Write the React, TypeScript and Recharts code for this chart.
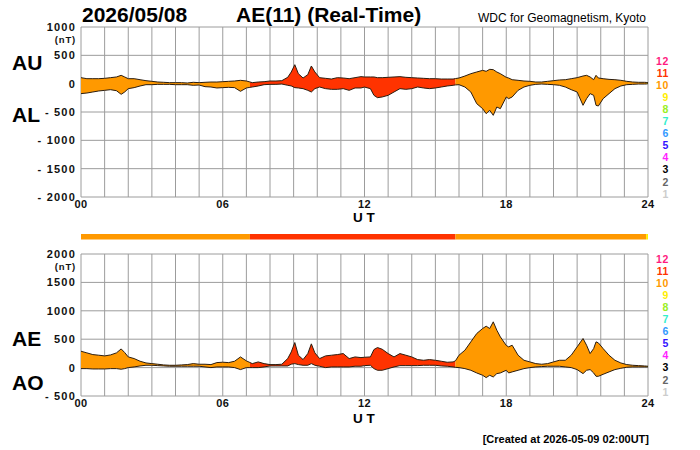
import { ComposedChart, Area, Line, XAxis, YAxis, CartesianGrid, BarChart, Bar } from 'recharts';

const FONT = '"Liberation Sans", Arial, Helvetica, sans-serif';
const GRID = '#9c9c9c';
const EDGE = '#2b1d10';

// UT hours of the sampled points
const hours = [
  0, 0.25, 0.5, 0.75, 1, 1.25, 1.5, 1.7, 1.85, 2, 2.25, 2.5, 2.75, 3, 3.25, 3.5, 3.75, 4, 4.25, 4.5,
  4.75, 5, 5.25, 5.5, 5.75, 6, 6.25, 6.5, 6.75, 7, 7.15, 7.25, 7.5, 7.75, 8, 8.25, 8.5, 8.75, 8.9, 9.05,
  9.2, 9.4, 9.6, 9.75, 9.9, 10.1, 10.35, 10.6, 10.85, 11.1, 11.35, 11.6, 11.85, 12, 12.25, 12.4, 12.55, 12.75, 13, 13.25,
  13.5, 13.75, 14, 14.25, 14.5, 14.75, 15, 15.25, 15.5, 15.75, 15.85, 16, 16.25, 16.5, 16.75, 17, 17.15, 17.3, 17.45, 17.6,
  17.75, 18, 18.1, 18.25, 18.5, 18.75, 19, 19.25, 19.5, 19.75, 20, 20.25, 20.5, 20.75, 21, 21.25, 21.4, 21.55, 21.7, 21.8,
  21.9, 22.1, 22.35, 22.6, 22.85, 23.1, 23.35, 23.6, 23.85, 23.92, 24,
];

const au = [
  106, 88, 88, 88, 94, 106, 118, 147, 118, 88, 88, 70, 53, 41, 29, 24, 18, 18, 18, 12,
  24, 18, 24, 29, 29, 35, 41, 47, 59, 47, 30, 18, 29, 35, 47, 47, 53, 112, 206, 335,
  176, 100, 159, 312, 206, 106, 94, 82, 106, 100, 88, 106, 124, 118, 118, 118, 106, 106, 112, 118,
  124, 112, 106, 100, 94, 88, 88, 82, 82, 82, 90, 100, 135, 176, 206, 235, 218, 253, 247, 206,
  176, 112, 100, 70, 59, 47, 41, 29, 29, 41, 53, 65, 70, 88, 106, 135, 147, 118, 70, 147,
  100, 88, 76, 70, 59, 41, 29, 24, 24, 22, 18,
];

const al = [
  -176, -165, -147, -129, -118, -106, -124, -188, -147, -88, -70, -41, -18, -18, -12, -12, -12, -18, -18, -18,
  -29, -24, -53, -59, -76, -70, -65, -70, -135, -76, -65, -59, -41, -18, -12, -12, -6, -29, -40, -70,
  -76, -88, -118, -147, -88, -59, -88, -100, -100, -88, -118, -76, -76, -60, -88, -206, -247, -235, -206, -147,
  -88, -100, -88, -59, -76, -88, -76, -59, -41, -29, -22, -18, -59, -147, -353, -441, -529, -470, -559, -412,
  -441, -235, -265, -235, -118, -59, -29, -12, -6, -12, -18, -29, -59, -106, -147, -382, -265, -176, -206, -382,
  -394, -265, -176, -88, -41, -18, -12, -6, -6, -5, 0,
];

const ae = [
  288, 259, 229, 218, 206, 223, 259, 329, 265, 188, 159, 112, 82, 70, 59, 47, 41, 41, 47, 53,
  70, 59, 59, 53, 88, 95, 88, 112, 188, 118, 90, 70, 100, 70, 53, 53, 59, 159, 276, 441,
  218, 141, 247, 418, 259, 159, 206, 218, 229, 247, 159, 188, 176, 182, 188, 318, 353, 323, 247, 188,
  247, 218, 188, 141, 129, 141, 129, 112, 94, 100, 120, 218, 306, 453, 600, 688, 729, 688, 806, 659,
  541, 390, 365, 394, 218, 129, 100, 70, 59, 70, 100, 129, 129, 218, 365, 512, 394, 247, 335, 453,
  435, 335, 218, 129, 82, 53, 41, 35, 29, 27, 24,
];

const ao = [
  -18, -18, -24, -24, -24, -18, -18, -29, -18, 0, 12, 29, 41, 41, 35, 29, 24, 24, 24, 24,
  24, 24, 12, 0, 12, 12, 12, 0, -35, 0, 0, 0, 0, 12, 29, 29, 29, 29, 60, 70,
  53, 41, 41, 70, 41, 24, 0, 12, 12, 12, 12, 24, 24, 35, 41, -18, -47, -47, -18, 12,
  35, 35, 35, 35, 41, 41, 41, 29, 24, 12, 5, 0, -18, -47, -94, -135, -176, -135, -165, -106,
  -94, -47, -94, -76, -47, -18, 0, 12, 18, 24, 24, 24, 12, 0, -35, -106, -47, -35, -94, -153,
  -153, -118, -76, -35, -12, 6, 12, 12, 12, 12, 12,
];

// number of contributing stations per time span
const segStart = [0, 7.15, 15.85, 23.92];
const segEnd = [7.15, 15.85, 23.92, 24];
const segStations = [10, 11, 10, 9];

const stationColors: Record<number, string> = {
  1: '#cccccc',
  2: '#666666',
  3: '#000000',
  4: '#ff22ff',
  5: '#3311ff',
  6: '#3399ff',
  7: '#33eecc',
  8: '#99ee22',
  9: '#ffee00',
  10: '#ff9900',
  11: '#ff3300',
  12: '#ff1a80',
};
const stationLabels = [12, 11, 10, 9, 8, 7, 6, 5, 4, 3, 2, 1];

const hourTicks = [0, 1, 2, 3, 4, 5, 6, 7, 8, 9, 10, 11, 12, 13, 14, 15, 16, 17, 18, 19, 20, 21, 22, 23, 24];
const auTicks = [-2000, -1500, -1000, -500, 0, 500, 1000];
const aeTicks = [-500, 0, 500, 1000, 1500, 2000];

const rows = hours.map((t, i) => {
  const row: Record<string, any> = { t, au: au[i], al: al[i], ae: ae[i], ao: ao[i] };
  segStart.forEach((s, k) => {
    const inSeg = t >= s && t <= segEnd[k];
    row[`u${k}`] = inSeg ? [al[i], au[i]] : null;
    row[`e${k}`] = inSeg ? [ao[i], ae[i]] : null;
  });
  return row;
});

const barRow: Record<string, any> = { row: 'n' };
segStart.forEach((s, k) => {
  barRow[`b${k}`] = segEnd[k] - s;
});

const tickText = { fontFamily: FONT, fontWeight: 700, fill: '#111' };

function makeYTick(topValue: number) {
  return (props: any) => {
    const { x, y, payload } = props;
    const v = payload.value as number;
    const label = v < 0 ? `- ${Math.abs(v)}` : `${v}`;
    return (
      <g>
        <text x={x} y={y} dy={4} textAnchor="end" fontSize={11} letterSpacing={1.2} {...tickText}>
          {label}
        </text>
        {v === topValue && (
          <text x={x} y={y} dy={15.5} textAnchor="end" fontSize={9.5} letterSpacing={0.8} {...tickText}>
            (nT)
          </text>
        )}
      </g>
    );
  };
}

function XTick(props: any) {
  const { x, y, payload } = props;
  const v = payload.value as number;
  if (v % 6 !== 0) return <g />;
  return (
    <text x={x} y={y} dy={10.5} textAnchor="middle" fontSize={11} letterSpacing={0.4} {...tickText}>
      {String(v).padStart(2, '0')}
    </text>
  );
}

function Panel({ lo, hi, prefix, domain, ticks, height, margin }: any) {
  return (
    <ComposedChart width={700} height={height} data={rows} margin={margin}>
      <CartesianGrid stroke={GRID} strokeWidth={1} />
      <XAxis
        dataKey="t"
        type="number"
        domain={[0, 24]}
        ticks={hourTicks}
        interval={0}
        height={30}
        tickSize={0}
        tickMargin={0}
        axisLine={false}
        tickLine={false}
        tick={XTick}
      />
      <YAxis
        type="number"
        domain={domain}
        ticks={ticks}
        interval={0}
        width={60}
        tickSize={0}
        tickMargin={5}
        axisLine={false}
        tickLine={false}
        allowDataOverflow
        tick={makeYTick(domain[1])}
      />
      {segStart.map((_, k) => (
        <Area
          key={`${prefix}${k}`}
          dataKey={`${prefix}${k}`}
          type="linear"
          stroke="none"
          fill={stationColors[segStations[k]]}
          fillOpacity={1}
          isAnimationActive={false}
        />
      ))}
      <Line dataKey={hi} type="linear" stroke={EDGE} strokeWidth={1} dot={false} isAnimationActive={false} />
      <Line dataKey={lo} type="linear" stroke={EDGE} strokeWidth={1} dot={false} isAnimationActive={false} />
    </ComposedChart>
  );
}

function StationLabels({ top }: { top: number }) {
  return (
    <>
      {stationLabels.map((n, i) => (
        <text
          key={n}
          x={669}
          y={top + i * 12.1}
          textAnchor="end"
          fontFamily={FONT}
          fontWeight={700}
          fontSize={10.5}
          letterSpacing={0.6}
          fill={stationColors[n]}
        >
          {n}
        </text>
      ))}
    </>
  );
}

export default function App() {
  return (
    <div style={{ position: 'absolute', left: 0, top: 0, width: 700, height: 450, background: '#fff', fontFamily: FONT }}>
      <div style={{ position: 'absolute', left: 0, top: 0 }}>
        <Panel lo="al" hi="au" prefix="u" domain={[-2000, 1000]} ticks={auTicks} height={230}
          margin={{ top: 27, right: 52, bottom: 3, left: 21 }} />
      </div>
      <div style={{ position: 'absolute', left: 0, top: 234 }}>
        <BarChart width={700} height={6} layout="vertical" data={[barRow]} barCategoryGap={0}
          margin={{ top: 0, right: 52, bottom: 0, left: 81 }}>
          <XAxis type="number" domain={[0, 24]} hide />
          <YAxis type="category" dataKey="row" hide />
          {segStart.map((_, k) => (
            <Bar key={k} dataKey={`b${k}`} stackId="s" fill={stationColors[segStations[k]]}
              barSize={6} isAnimationActive={false} />
          ))}
        </BarChart>
      </div>
      <div style={{ position: 'absolute', left: 0, top: 240 }}>
        <Panel lo="ao" hi="ae" prefix="e" domain={[-500, 2000]} ticks={aeTicks} height={200}
          margin={{ top: 14, right: 52, bottom: 14, left: 21 }} />
      </div>
      <svg width={700} height={450} style={{ position: 'absolute', left: 0, top: 0, pointerEvents: 'none' }}>
        <g fontFamily={FONT} fontWeight={700} fill="#000">
          <text x={82} y={22} fontSize={21}>2026/05/08</text>
          <text x={236} y={22} fontSize={21}>AE(11) (Real-Time)</text>
          <text x={12} y={70} fontSize={21}>AU</text>
          <text x={12} y={122} fontSize={21}>AL</text>
          <text x={12} y={346} fontSize={21}>AE</text>
          <text x={12} y={390} fontSize={21}>AO</text>
          <text x={353} y={221.5} fontSize={13.5}>U T</text>
          <text x={353} y={423} fontSize={13.5}>U T</text>
          <text x={649} y={443} fontSize={11} textAnchor="end">[Created at 2026-05-09 02:00UT]</text>
        </g>
        <text x={646} y={21.5} fontFamily={FONT} fontSize={12} textAnchor="end" fill="#000">
          WDC for Geomagnetism, Kyoto
        </text>
        <StationLabels top={64.5} />
        <StationLabels top={262.5} />
      </svg>
    </div>
  );
}
